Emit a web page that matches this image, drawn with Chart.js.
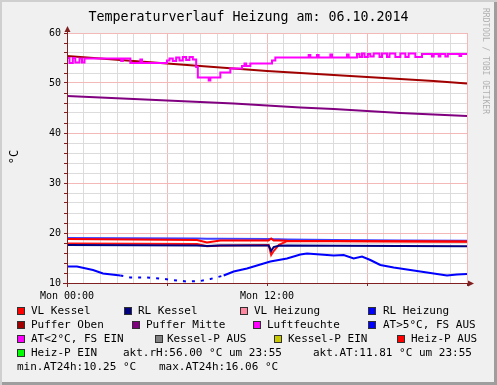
<!DOCTYPE html>
<html>
<head>
<meta charset="utf-8">
<script src="https://cdn.jsdelivr.net/npm/chart.js@4.4.0/dist/chart.umd.min.js"></script>
<style>
  body { margin: 0; background: #fff; }
  #frame {
    position: relative; width: 497px; height: 385px; overflow: hidden;
    background: #f0f0f0;
    box-shadow: inset 2px 2px 0 #cfcfcf, inset -3px -3px 0 #9e9e9e;
    font-family: "DejaVu Sans Mono", monospace; color: #000;
  }
  #chart { position: absolute; left: 0; top: 0; }
  .title { position: absolute; left: 0; top: 8px; width: 497px; text-align: center; font-size: 13.3px; line-height: 17px; }
  .ytitle { position: absolute; left: 1px; top: 150px; width: 26px; text-align: center; font-size: 12px; line-height: 14px; transform: rotate(-90deg); }
  .mark { position: absolute; left: 481px; top: 8px; font-size: 8px; color: #b0b0b0; writing-mode: vertical-rl; }
  .lg { position: absolute; font-size: 11px; line-height: 14px; height: 14px; white-space: pre; }
  .sq { position: absolute; width: 8px; height: 8px; box-sizing: border-box; border: 1px solid #303030; }
</style>
</head>
<body>
<div id="frame">
  <canvas id="chart" width="497" height="305"></canvas>
  <div class="title">Temperaturverlauf Heizung am: 06.10.2014</div>
  <div class="ytitle">°C</div>
  <div class="mark">RRDTOOL / TOBI OETIKER</div>

  <!-- legend row 1 -->
  <div class="sq" style="left:17px;top:307px;background:#ff0000"></div><div class="lg" style="left:31px;top:304px">VL Kessel</div>
  <div class="sq" style="left:124px;top:307px;background:#000080"></div><div class="lg" style="left:138px;top:304px">RL Kessel</div>
  <div class="sq" style="left:240px;top:307px;background:#ff88a0"></div><div class="lg" style="left:254px;top:304px">VL Heizung</div>
  <div class="sq" style="left:368px;top:307px;background:#0000ff"></div><div class="lg" style="left:383px;top:304px">RL Heizung</div>
  <!-- row 2 -->
  <div class="sq" style="left:17px;top:321px;background:#a00000"></div><div class="lg" style="left:31px;top:318px">Puffer Oben</div>
  <div class="sq" style="left:132px;top:321px;background:#800080"></div><div class="lg" style="left:146px;top:318px">Puffer Mitte</div>
  <div class="sq" style="left:253px;top:321px;background:#ff00ff"></div><div class="lg" style="left:267px;top:318px">Luftfeuchte</div>
  <div class="sq" style="left:368px;top:321px;background:#0000ff"></div><div class="lg" style="left:383px;top:318px">AT&gt;5°C, FS AUS</div>
  <!-- row 3 -->
  <div class="sq" style="left:17px;top:335px;background:#ff00ff"></div><div class="lg" style="left:31px;top:332px">AT&lt;2°C, FS EIN</div>
  <div class="sq" style="left:155px;top:335px;background:#808080"></div><div class="lg" style="left:167px;top:332px">Kessel-P AUS</div>
  <div class="sq" style="left:274px;top:335px;background:#c8c800"></div><div class="lg" style="left:288px;top:332px">Kessel-P EIN</div>
  <div class="sq" style="left:397px;top:335px;background:#ff0000"></div><div class="lg" style="left:411px;top:332px">Heiz-P AUS</div>
  <!-- row 4 -->
  <div class="sq" style="left:17px;top:349px;background:#00ff00"></div><div class="lg" style="left:31px;top:346px">Heiz-P EIN</div>
  <div class="lg" style="left:123px;top:346px">akt.rH:56.00 °C um 23:55</div>
  <div class="lg" style="left:313px;top:346px">akt.AT:11.81 °C um 23:55</div>
  <!-- row 5 -->
  <div class="lg" style="left:17px;top:360px">min.AT24h:10.25 °C</div>
  <div class="lg" style="left:159px;top:360px">max.AT24h:16.06 °C</div>
</div>

<script>
// hours since Mon 00:00
const xTickHours = [0, 12];
const xTickLabels = ["Mon 00:00", "Mon 12:00"];
const yTickValues = [10, 20, 30, 40, 50, 60];

// buffer tank
const pufferHours = [0, 2, 4, 6, 8, 10, 12, 14, 16, 18, 20, 22, 24];
const pufferOben = [55.4, 54.9, 54.4, 53.9, 53.4, 52.9, 52.4, 52.0, 51.6, 51.2, 50.8, 50.4, 49.9];
const pufferMitte = [47.4, 47.1, 46.8, 46.5, 46.2, 45.9, 45.5, 45.1, 44.8, 44.4, 44.0, 43.7, 43.4];

// boiler / heating flow and return
const kesselHours = [0, 4, 7.8, 8.4, 9.2, 12.1, 12.25, 12.4, 12.7, 13.2, 16, 20, 24];
const vlKessel = [18.8, 18.7, 18.6, 18.1, 18.5, 18.5, 18.9, 18.5, 18.5, 18.45, 18.4, 18.35, 18.3];
const vlHeizung = [17.9, 17.85, 17.8, 17.35, 17.5, 17.6, 15.6, 16.4, 17.6, 18.4, 18.35, 18.3, 18.25];
const rlKessel = [17.6, 17.55, 17.5, 17.4, 17.5, 17.5, 16.4, 17.2, 17.45, 17.5, 17.45, 17.4, 17.35];
const rlHeizung = [19.0, 18.95, 18.9, 18.85, 18.85, 18.8, 18.8, 18.75, 18.75, 18.7, 18.6, 18.5, 18.45];

// outside temperature
const atHours = [0, 0.6, 1.56, 2.16, 3.2, 3.8, 4.8, 5.6, 6.6, 7.2, 8.0, 8.6, 9.4, 10.0, 10.8, 11.6, 12.2,
  13.2, 14.0, 14.4, 15.2, 16.0, 16.6, 17.2, 17.7, 18.2, 18.8, 19.6, 20.6, 21.6, 22.8, 23.4, 24];
const atValues = [13.3, 13.3, 12.6, 11.9, 11.5, 11.1, 11.1, 10.9, 10.5, 10.3, 10.4, 10.8, 11.5, 12.3, 12.9, 13.7, 14.3,
  14.9, 15.7, 15.9, 15.7, 15.5, 15.6, 14.9, 15.3, 14.6, 13.6, 13.1, 12.6, 12.1, 11.5, 11.7, 11.8];
const atDotFrom = 2.2;
const atDotTo = 9.4;

// humidity (value holds until next time)
const humHours = [0, 0.15, 0.35, 0.5, 0.75, 0.9, 1.05, 3.25, 3.35, 3.8, 4.4, 4.5, 6.0, 6.15, 6.35, 6.55, 6.75, 6.95,
  7.15, 7.35, 7.55, 7.75, 7.85, 8.5, 8.6, 9.2, 9.8, 10.5, 10.65, 10.75, 11.0, 12.3, 12.5, 14.5, 14.6, 15.0, 15.1,
  15.8, 15.9, 16.8, 16.9, 17.4, 17.55, 17.7, 17.85, 18.05, 18.2, 18.4, 18.75, 18.9, 19.2, 19.35, 19.7, 20.0, 20.3,
  20.5, 20.9, 21.3, 21.9, 22.0, 22.3, 22.4, 22.7, 22.85, 23.55, 23.65, 24];
const humValues = [55.0, 54.0, 55.0, 54.1, 54.9, 54.1, 54.9, 54.4, 54.9, 54.0, 54.7, 54.0, 54.5, 54.9, 54.4, 55.1, 54.5, 55.2,
  54.6, 55.2, 54.7, 53.2, 51.1, 50.5, 51.1, 52.1, 52.9, 53.4, 53.9, 53.4, 53.9, 54.5, 55.1, 55.6, 55.1, 55.6, 55.1,
  55.7, 55.1, 55.7, 55.1, 55.8, 55.2, 55.9, 55.2, 55.8, 55.3, 55.9, 55.2, 55.9, 55.2, 55.9, 55.2, 55.9, 55.2,
  55.9, 55.2, 55.8, 55.3, 55.8, 55.3, 55.8, 55.3, 55.8, 55.4, 55.8, 56.0];

const minorGrid = "#dcdcdc";
const majorGrid = "#f3b8b8";
const axisColor = "#802020";

function pts(hours, vals) {
  return hours.map((h, i) => ({ x: h, y: vals[i] }));
}

function line(label, hours, vals, color, order) {
  return {
    label: label,
    data: pts(hours, vals),
    borderColor: color,
    borderWidth: 2,
    pointRadius: 0,
    fill: false,
    order: order,
  };
}

// white plot area + axis lines with arrows like rrdtool
const rrdFrame = {
  id: "rrdFrame",
  beforeDraw(chart) {
    const { ctx, chartArea: a } = chart;
    ctx.save();
    ctx.fillStyle = "#ffffff";
    ctx.fillRect(a.left, a.top, a.right - a.left, a.bottom - a.top);
    ctx.restore();
  },
  afterDraw(chart) {
    const { ctx, chartArea: a } = chart;
    ctx.save();
    ctx.strokeStyle = axisColor;
    ctx.fillStyle = axisColor;
    ctx.lineWidth = 1;
    ctx.beginPath();
    ctx.moveTo(a.left + 0.5, a.bottom + 4);
    ctx.lineTo(a.left + 0.5, a.top - 3);
    ctx.moveTo(a.left - 4, a.bottom + 0.5);
    ctx.lineTo(a.right + 3, a.bottom + 0.5);
    ctx.stroke();
    ctx.beginPath();
    ctx.moveTo(a.left + 0.5, a.top - 7);
    ctx.lineTo(a.left - 2.5, a.top - 1);
    ctx.lineTo(a.left + 3.5, a.top - 1);
    ctx.fill();
    ctx.beginPath();
    ctx.moveTo(a.right + 7, a.bottom + 0.5);
    ctx.lineTo(a.right + 1, a.bottom - 2.5);
    ctx.lineTo(a.right + 1, a.bottom + 3.5);
    ctx.fill();
    ctx.restore();
  },
};

Chart.defaults.font.family = "'DejaVu Sans Mono', monospace";
Chart.defaults.font.size = 10;
Chart.defaults.color = "#000";

const humSet = line("Luftfeuchte", humHours, humValues, "#ff00ff", 2);
humSet.stepped = "before";

const atSet = line("AT", atHours, atValues, "#0000ff", 1);
atSet.segment = {
  borderDash: (c) => (c.p0.parsed.x >= atDotFrom && c.p1.parsed.x <= atDotTo ? [3, 6] : undefined),
};

let heatChart = new Chart("chart", {
  type: "line",
  data: {
    datasets: [
      atSet,
      humSet,
      line("Puffer Oben", pufferHours, pufferOben, "#a00000", 3),
      line("Puffer Mitte", pufferHours, pufferMitte, "#800080", 4),
      line("VL Kessel", kesselHours, vlKessel, "#ff0000", 5),
      line("RL Kessel", kesselHours, rlKessel, "#000080", 6),
      line("VL Heizung", kesselHours, vlHeizung, "#ff1010", 7),
      line("RL Heizung", kesselHours, rlHeizung, "#4040ff", 8),
    ],
  },
  options: {
    responsive: false,
    animation: false,
    devicePixelRatio: 1,
    layout: { padding: { top: 33, left: 0, right: 30, bottom: 0 } },
    plugins: { legend: { display: false }, tooltip: { enabled: false }, title: { display: false } },
    scales: {
      x: {
        type: "linear",
        min: 0,
        max: 24,
        ticks: {
          stepSize: 1,
          autoSkip: false,
          maxRotation: 0,
          padding: 4,
          callback: (v) => {
            let i = xTickHours.indexOf(v);
            return i >= 0 ? xTickLabels[i] : "";
          },
        },
        grid: {
          color: (c) => (c.tick && c.tick.value % 6 === 0 ? majorGrid : minorGrid),
          tickLength: 3,
          tickColor: (c) => (c.tick && c.tick.value % 6 === 0 ? axisColor : "rgba(0,0,0,0)"),
        },
        border: { display: false },
        afterFit: (s) => { s.height = 22; },
      },
      y: {
        min: 10,
        max: 60,
        ticks: {
          stepSize: 2,
          autoSkip: false,
          padding: 3,
          callback: (v) => (yTickValues.includes(v) ? String(v) : ""),
        },
        grid: {
          color: (c) => (c.tick && c.tick.value % 10 === 0 ? majorGrid : minorGrid),
          tickLength: 3,
          tickColor: axisColor,
        },
        border: { display: false },
        afterFit: (s) => { s.width = 67; },
      },
    },
  },
  plugins: [rrdFrame],
});
</script>
</body>
</html>
